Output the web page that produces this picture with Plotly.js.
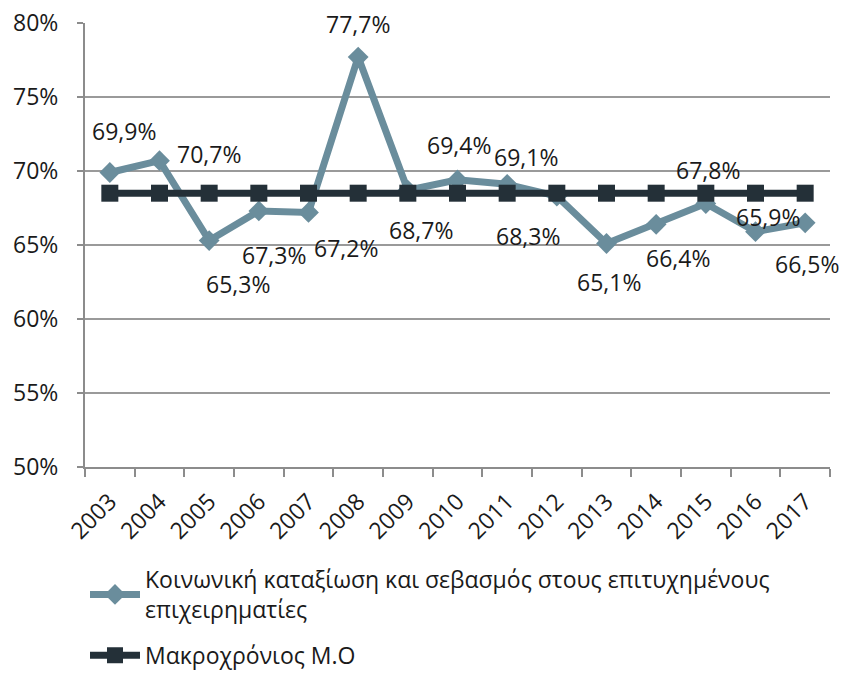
<!DOCTYPE html>
<html>
<head>
<meta charset="utf-8">
<script src="https://cdn.plot.ly/plotly-3.0.1.min.js"></script>
<style>html,body{margin:0;padding:0;background:#fff;}#chart{width:850px;height:678px;}</style>
</head>
<body>
<div id="chart"></div>
<script>
const years = ["2003","2004","2005","2006","2007","2008","2009","2010","2011","2012","2013","2014","2015","2016","2017"];
const respect = [69.9,70.7,65.3,67.3,67.2,77.7,68.7,69.4,69.1,68.3,65.1,66.4,67.8,65.9,66.5];
const longMean = [68.5,68.5,68.5,68.5,68.5,68.5,68.5,68.5,68.5,68.5,68.5,68.5,68.5,68.5,68.5];
const seriesNames = ["Κοινωνική καταξίωση και σεβασμός στους επιτυχημένους<br>επιχειρηματίες","Μακροχρόνιος Μ.Ο"];

// label offsets (style only)
const labelDx = [14,49,29,15,37,0,13,1,19,-29,2,22,2,12,2];
const labelDy = [41,7,-43,-44,-36,33,-40,35,27,-40,-38,-34,34,15,-41];

const FONT = "Open Sans, sans-serif";
const FS = 23;

const traces = [
  {
    x: years, y: respect, name: seriesNames[0], type: "scatter", mode: "lines+markers",
    legendgroup: "g1",
    line: {color: "#6a8d9c", width: 7},
    marker: {symbol: "diamond", size: 16, color: "#6a8d9c"}
  },
  {
    x: years, y: longMean, name: seriesNames[1], type: "scatter", mode: "lines+markers",
    legendgroup: "g2",
    line: {color: "#243038", width: 7},
    marker: {symbol: "square", size: 17, color: "#243038"}
  }
];

const annotations = years.map((yr, i) => ({
  x: i, y: respect[i], xref: "x", yref: "y",
  text: respect[i].toFixed(1).replace(".", ",") + "%",
  showarrow: false, xshift: labelDx[i], yshift: labelDy[i],
  font: {family: FONT, size: FS, color: "#1a1a1a"}
}));

const layout = {
  width: 850, height: 678,
  margin: {l: 85, r: 20, t: 23, b: 211, autoexpand: false},
  paper_bgcolor: "#fff", plot_bgcolor: "#fff",
  font: {family: FONT, size: FS, color: "#1a1a1a"},
  showlegend: true,
  legend: {
    orientation: "v", x: 0, xanchor: "left",
    yref: "container", y: 0.177, yanchor: "top",
    font: {family: FONT, size: FS, color: "#1a1a1a"},
    tracegroupgap: 13, itemwidth: 50
  },
  xaxis: {
    type: "category", tickangle: -45, tickson: "boundaries",
    ticks: "outside", ticklen: 8, tickcolor: "#8c8c8c", tickwidth: 2,
    showline: true, linecolor: "#8c8c8c", linewidth: 2,
    showgrid: false, zeroline: false, ticklabelstandoff: 10,
    tickfont: {family: FONT, size: FS, color: "#1a1a1a"},
    range: [-0.5, 14.5]
  },
  yaxis: {
    range: [50, 80], dtick: 5, ticksuffix: "%",
    ticks: "outside", ticklen: 6, tickcolor: "#8c8c8c", tickwidth: 2,
    showline: true, linecolor: "#8c8c8c", linewidth: 2, ticklabelstandoff: 14,
    showgrid: true, gridcolor: "#9a9a9a", gridwidth: 2, zeroline: false,
    tickfont: {family: FONT, size: FS, color: "#1a1a1a"}
  },
  annotations: annotations
};

Plotly.newPlot("chart", traces, layout, {staticPlot: true, displayModeBar: false});
</script>
</body>
</html>
